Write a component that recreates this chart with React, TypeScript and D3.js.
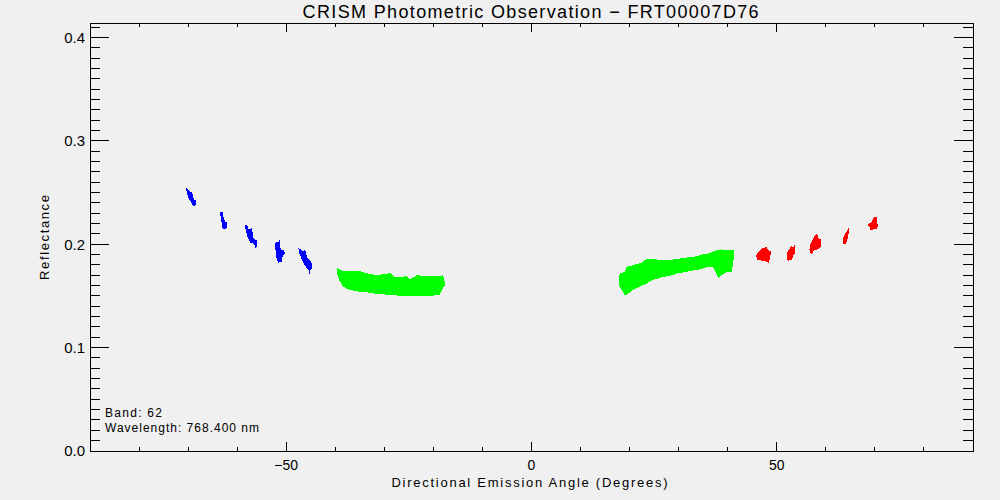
import React from 'react';
import * as d3 from 'd3';

const title = 'CRISM Photometric Observation \u2212 FRT00007D76';
const xTitle = 'Directional Emission Angle (Degrees)';
const yTitle = 'Reflectance';
const bandNote = 'Band: 62';
const waveNote = 'Wavelength: 768.400 nm';

const xMajor = [-50, 0, 50];
const xMajorLabels = ['\u221250', '0', '50'];
const yMajor = [0, 0.1, 0.2, 0.3, 0.4];
const yMajorLabels = ['0.0', '0.1', '0.2', '0.3', '0.4'];

// outlines of the small point clouds, [emission angle, reflectance]
const blueClusters: [number, number][][] = [
  [[-70.36, 0.2541], [-69.69, 0.2515], [-69.2, 0.2498], [-68.74, 0.2427], [-68.33, 0.2421], [-68.33, 0.2389],
   [-68.74, 0.2363], [-69.0, 0.2369], [-69.55, 0.2421], [-69.9, 0.2444], [-70.22, 0.2492], [-70.36, 0.2524]],
  [[-63.44, 0.2311], [-62.98, 0.2309], [-62.77, 0.226], [-62.43, 0.2218], [-62.02, 0.2212], [-62.02, 0.2169],
   [-62.43, 0.2147], [-62.98, 0.2154], [-63.1, 0.2195], [-63.3, 0.2241], [-63.44, 0.2282]],
  [[-58.35, 0.2186], [-57.81, 0.2176], [-57.68, 0.2144], [-56.99, 0.2154], [-56.67, 0.2057], [-55.97, 0.2034],
   [-55.85, 0.1983], [-56.32, 0.196], [-56.52, 0.2002], [-57.19, 0.2015], [-57.34, 0.2009], [-57.54, 0.2041],
   [-57.89, 0.2073], [-58.15, 0.2121], [-58.35, 0.2154]],
  [[-52.25, 0.2015], [-51.58, 0.2024], [-51.37, 0.2041], [-51.09, 0.1937], [-50.68, 0.1951], [-50.21, 0.1918],
   [-50.76, 0.1879], [-50.89, 0.1831], [-51.58, 0.1821], [-51.9, 0.1847], [-52.11, 0.1912], [-52.25, 0.1976]],
  [[-47.51, 0.196], [-47.02, 0.1951], [-46.61, 0.1934], [-46.14, 0.1951], [-45.8, 0.1879], [-45.27, 0.1847],
   [-44.72, 0.1815], [-44.72, 0.1767], [-45.12, 0.1744], [-45.27, 0.1712], [-45.47, 0.175], [-45.94, 0.1777],
   [-46.49, 0.1821], [-47.02, 0.1873], [-47.36, 0.1918]],
];

const redClusters: [number, number][][] = [
  [[45.92, 0.1912], [46.81, 0.1944], [47.14, 0.1966], [47.95, 0.197], [48.36, 0.1937], [48.91, 0.1927],
   [48.65, 0.1879], [48.36, 0.1815], [47.95, 0.1831], [47.28, 0.184], [46.12, 0.1847], [45.8, 0.1879]],
  [[52.03, 0.1918], [52.57, 0.1951], [52.92, 0.1983], [53.39, 0.197], [53.73, 0.2002], [53.65, 0.1912],
   [53.25, 0.1879], [53.12, 0.1847], [52.23, 0.184], [52.03, 0.1879]],
  [[57.32, 0.2041], [57.81, 0.2089], [58.21, 0.2099], [58.54, 0.2057], [59.03, 0.2047], [59.03, 0.1976],
   [58.33, 0.1951], [57.66, 0.1944], [57.32, 0.1918], [56.99, 0.1902], [56.64, 0.1944], [56.85, 0.2002]],
  [[63.77, 0.2089], [64.44, 0.2137], [64.64, 0.2154], [64.79, 0.2131], [64.44, 0.2057], [64.11, 0.2009],
   [63.63, 0.1999], [63.42, 0.2041]],
  [[69.2, 0.2208], [69.67, 0.225], [70.08, 0.2266], [70.43, 0.226], [70.43, 0.2202], [70.69, 0.2176],
   [70.22, 0.2144], [69.67, 0.2144], [69.2, 0.2131], [68.86, 0.2169], [68.51, 0.2195]],
];

// the two dense green swaths: upper and lower envelope
const greenLeftAngle = [-39.6, -39.2, -38.4, -37.7, -36.3, -35.0, -33.6, -31.6, -28.8, -27.8, -25.4, -24.8, -23.4, -20.7, -18.7, -18.0, -17.6];
const greenLeftHigh = [0.177, 0.176, 0.174, 0.174, 0.174, 0.174, 0.172, 0.170, 0.172, 0.168, 0.169, 0.166, 0.170, 0.169, 0.169, 0.170, 0.161];
const greenLeftLow = [0.171, 0.165, 0.159, 0.157, 0.155, 0.154, 0.1535, 0.152, 0.151, 0.1506, 0.1496, 0.150, 0.1499, 0.1499, 0.151, 0.158, 0.160];

const greenRightAngle = [17.8, 18.0, 19.0, 19.4, 20.8, 22.4, 23.1, 24.5, 25.8, 26.5, 28.6, 29.9, 31.3, 33.3, 34.7, 36.0, 37.0, 37.6, 38.1, 38.7, 39.8, 40.8, 41.3];
const greenRightHigh = [0.166, 0.172, 0.173, 0.178, 0.180, 0.182, 0.185, 0.186, 0.185, 0.185, 0.185, 0.186, 0.187, 0.188, 0.190, 0.191, 0.193, 0.194, 0.194, 0.195, 0.194, 0.194, 0.194];
const greenRightLow = [0.160, 0.159, 0.151, 0.151, 0.156, 0.160, 0.161, 0.165, 0.167, 0.168, 0.170, 0.172, 0.173, 0.175, 0.176, 0.178, 0.178, 0.172, 0.167, 0.170, 0.173, 0.173, 0.188];

const W = 1000;
const H = 500;
const margin = { top: 23, right: 27, bottom: 49, left: 90 };
const font = '"Liberation Sans", Arial, sans-serif';

const App = () => {
  const x = d3.scaleLinear().domain([-90, 90]).range([margin.left, W - margin.right]);
  const y = d3.scaleLinear().domain([0, 0.414]).range([H - margin.bottom, margin.top]);

  const x0 = margin.left;
  const x1 = W - margin.right;
  const y0 = H - margin.bottom;
  const y1 = margin.top;

  const xMinor = d3.range(-80, 81, 10);
  const yMinor = d3.range(1, 42).map(i => i / 100);

  const outline = d3.line<[number, number]>()
    .x(d => x(d[0]))
    .y(d => y(d[1]))
    .curve(d3.curveLinearClosed);

  const band = d3.area<[number, number, number]>()
    .x(d => x(d[0]))
    .y0(d => y(d[2]))
    .y1(d => y(d[1]));

  const leftRows = greenLeftAngle.map((a, i) => [a, greenLeftHigh[i], greenLeftLow[i]] as [number, number, number]);
  const rightRows = greenRightAngle.map((a, i) => [a, greenRightHigh[i], greenRightLow[i]] as [number, number, number]);

  return (
    <svg width={W} height={H} style={{ position: 'absolute', left: 0, top: 0 }} fontFamily={font}>
      <rect width={W} height={H} fill="#f0f0f0" />

      <g shapeRendering="crispEdges">
        {blueClusters.map((c, i) => (
          <path key={'b' + i} d={outline(c) || ''} fill="#0000ff" />
        ))}
        {redClusters.map((c, i) => (
          <path key={'r' + i} d={outline(c) || ''} fill="#ff0000" />
        ))}
        <path d={band(leftRows) || ''} fill="#00ff00" />
        <path d={band(rightRows) || ''} fill="#00ff00" />
      </g>

      <g stroke="#000" strokeWidth={1} shapeRendering="crispEdges">
        <rect x={x0} y={y1} width={x1 - x0} height={y0 - y1} fill="none" />
        {xMinor.map(v => (
          <g key={'xm' + v}>
            <line x1={x(v)} x2={x(v)} y1={y0} y2={y0 - 4} />
            <line x1={x(v)} x2={x(v)} y1={y1} y2={y1 + 4} />
          </g>
        ))}
        {xMajor.map(v => (
          <g key={'xM' + v}>
            <line x1={x(v)} x2={x(v)} y1={y0} y2={y0 - 9} />
            <line x1={x(v)} x2={x(v)} y1={y1} y2={y1 + 9} />
          </g>
        ))}
        {yMinor.map(v => (
          <g key={'ym' + v}>
            <line x1={x0} x2={x0 + 10} y1={y(v)} y2={y(v)} />
            <line x1={x1} x2={x1 - 10} y1={y(v)} y2={y(v)} />
          </g>
        ))}
        {yMajor.map(v => (
          <g key={'yM' + v}>
            <line x1={x0} x2={x0 + 19} y1={y(v)} y2={y(v)} />
            <line x1={x1} x2={x1 - 19} y1={y(v)} y2={y(v)} />
          </g>
        ))}
      </g>

      <g fill="#000">
        {yMajor.map((v, i) => (
          <text key={'yl' + v} x={x0 - 5} y={y(v)} dy="0.36em" textAnchor="end" fontSize={15}>
            {yMajorLabels[i]}
          </text>
        ))}
        {xMajor.map((v, i) => (
          <text key={'xl' + v} x={x(v)} y={y0 + 19} textAnchor="middle" fontSize={14}>
            {xMajorLabels[i]}
          </text>
        ))}

        <text x={530.6} y={18} textAnchor="middle" fontSize={18} textLength={456} lengthAdjust="spacing">
          {title}
        </text>
        <text x={529.5} y={486.7} textAnchor="middle" fontSize={13} textLength={276} lengthAdjust="spacing">
          {xTitle}
        </text>
        <text transform="translate(49,237.5) rotate(-90)" textAnchor="middle" fontSize={13} textLength={85} lengthAdjust="spacing">
          {yTitle}
        </text>

        <text x={x0 + 15} y={416.7} fontSize={12} textLength={57} lengthAdjust="spacing">
          {bandNote}
        </text>
        <text x={x0 + 15} y={431.7} fontSize={12} textLength={154} lengthAdjust="spacing">
          {waveNote}
        </text>
      </g>
    </svg>
  );
};

export default App;
